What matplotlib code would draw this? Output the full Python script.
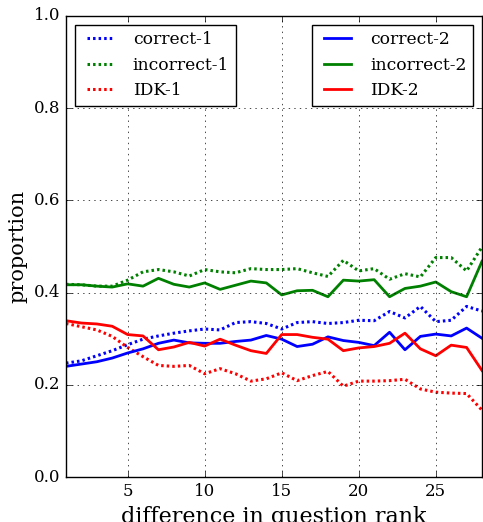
import numpy as np
import matplotlib
matplotlib.use("Agg")
import matplotlib.pyplot as plt

plt.style.use("classic")
plt.rcParams["font.family"] = "DejaVu Serif"

# difference in question rank
rank = np.arange(1, 29)

correct_1 = [0.247, 0.252, 0.263, 0.274, 0.287, 0.299, 0.306, 0.312, 0.317, 0.321,
             0.319, 0.335, 0.337, 0.333, 0.321, 0.335, 0.337, 0.333, 0.335, 0.340,
             0.339, 0.359, 0.345, 0.370, 0.337, 0.340, 0.370, 0.360]
incorrect_1 = [0.418, 0.417, 0.414, 0.414, 0.427, 0.445, 0.450, 0.445, 0.436, 0.450,
               0.445, 0.443, 0.452, 0.450, 0.450, 0.452, 0.443, 0.435, 0.470, 0.447,
               0.452, 0.429, 0.441, 0.434, 0.476, 0.476, 0.447, 0.499]
idk_1 = [0.333, 0.326, 0.319, 0.305, 0.281, 0.261, 0.242, 0.240, 0.242, 0.224,
         0.235, 0.224, 0.208, 0.213, 0.226, 0.209, 0.220, 0.229, 0.197, 0.208,
         0.208, 0.209, 0.212, 0.191, 0.184, 0.182, 0.181, 0.145]

correct_2 = [0.240, 0.245, 0.250, 0.258, 0.269, 0.278, 0.290, 0.297, 0.291, 0.290,
             0.290, 0.294, 0.297, 0.307, 0.299, 0.283, 0.288, 0.304, 0.296, 0.292,
             0.285, 0.314, 0.276, 0.305, 0.310, 0.306, 0.323, 0.301]
incorrect_2 = [0.417, 0.417, 0.414, 0.412, 0.419, 0.414, 0.431, 0.418, 0.412, 0.421,
               0.407, 0.416, 0.425, 0.421, 0.395, 0.404, 0.405, 0.391, 0.427, 0.425,
               0.428, 0.391, 0.409, 0.414, 0.423, 0.402, 0.391, 0.468]
idk_2 = [0.339, 0.334, 0.332, 0.327, 0.309, 0.306, 0.276, 0.282, 0.292, 0.284,
         0.299, 0.286, 0.274, 0.268, 0.309, 0.309, 0.303, 0.299, 0.274, 0.280,
         0.283, 0.290, 0.312, 0.278, 0.263, 0.286, 0.281, 0.231]

fig = plt.figure(figsize=(4.83, 5.22), dpi=100)
fig.patch.set_facecolor("white")
ax = fig.add_axes([66 / 483, 45 / 522, 416 / 483, 461 / 522])

dots = (0, (1.8, 2.2))
l1 = ax.plot(rank, correct_1, color="b", ls=dots, lw=2.2, label="correct-1")
l2 = ax.plot(rank, incorrect_1, color="g", ls=dots, lw=2.2, label="incorrect-1")
l3 = ax.plot(rank, idk_1, color="r", ls=dots, lw=2.2, label="IDK-1")
l4 = ax.plot(rank, correct_2, "b-", lw=2, label="correct-2")
l5 = ax.plot(rank, incorrect_2, "g-", lw=2, label="incorrect-2")
l6 = ax.plot(rank, idk_2, "r-", lw=2, label="IDK-2")

ax.set_xlim(1, 28)
ax.set_ylim(0, 1)
ax.set_xticks([5, 10, 15, 20, 25])
ax.set_yticks([0.0, 0.2, 0.4, 0.6, 0.8, 1.0])
ax.tick_params(labelsize=12)
ax.grid(True)
ax.set_xlabel("difference in question rank", fontsize=16)
ax.set_ylabel("proportion", fontsize=15)

leg1 = ax.legend(handles=l1 + l2 + l3, loc="upper left", fontsize=12.3, handlelength=2.2)
ax.add_artist(leg1)
ax.legend(handles=l4 + l5 + l6, loc="upper right", fontsize=12.3, handlelength=2.2)

fig.savefig("out.png", dpi=100, facecolor="white")
